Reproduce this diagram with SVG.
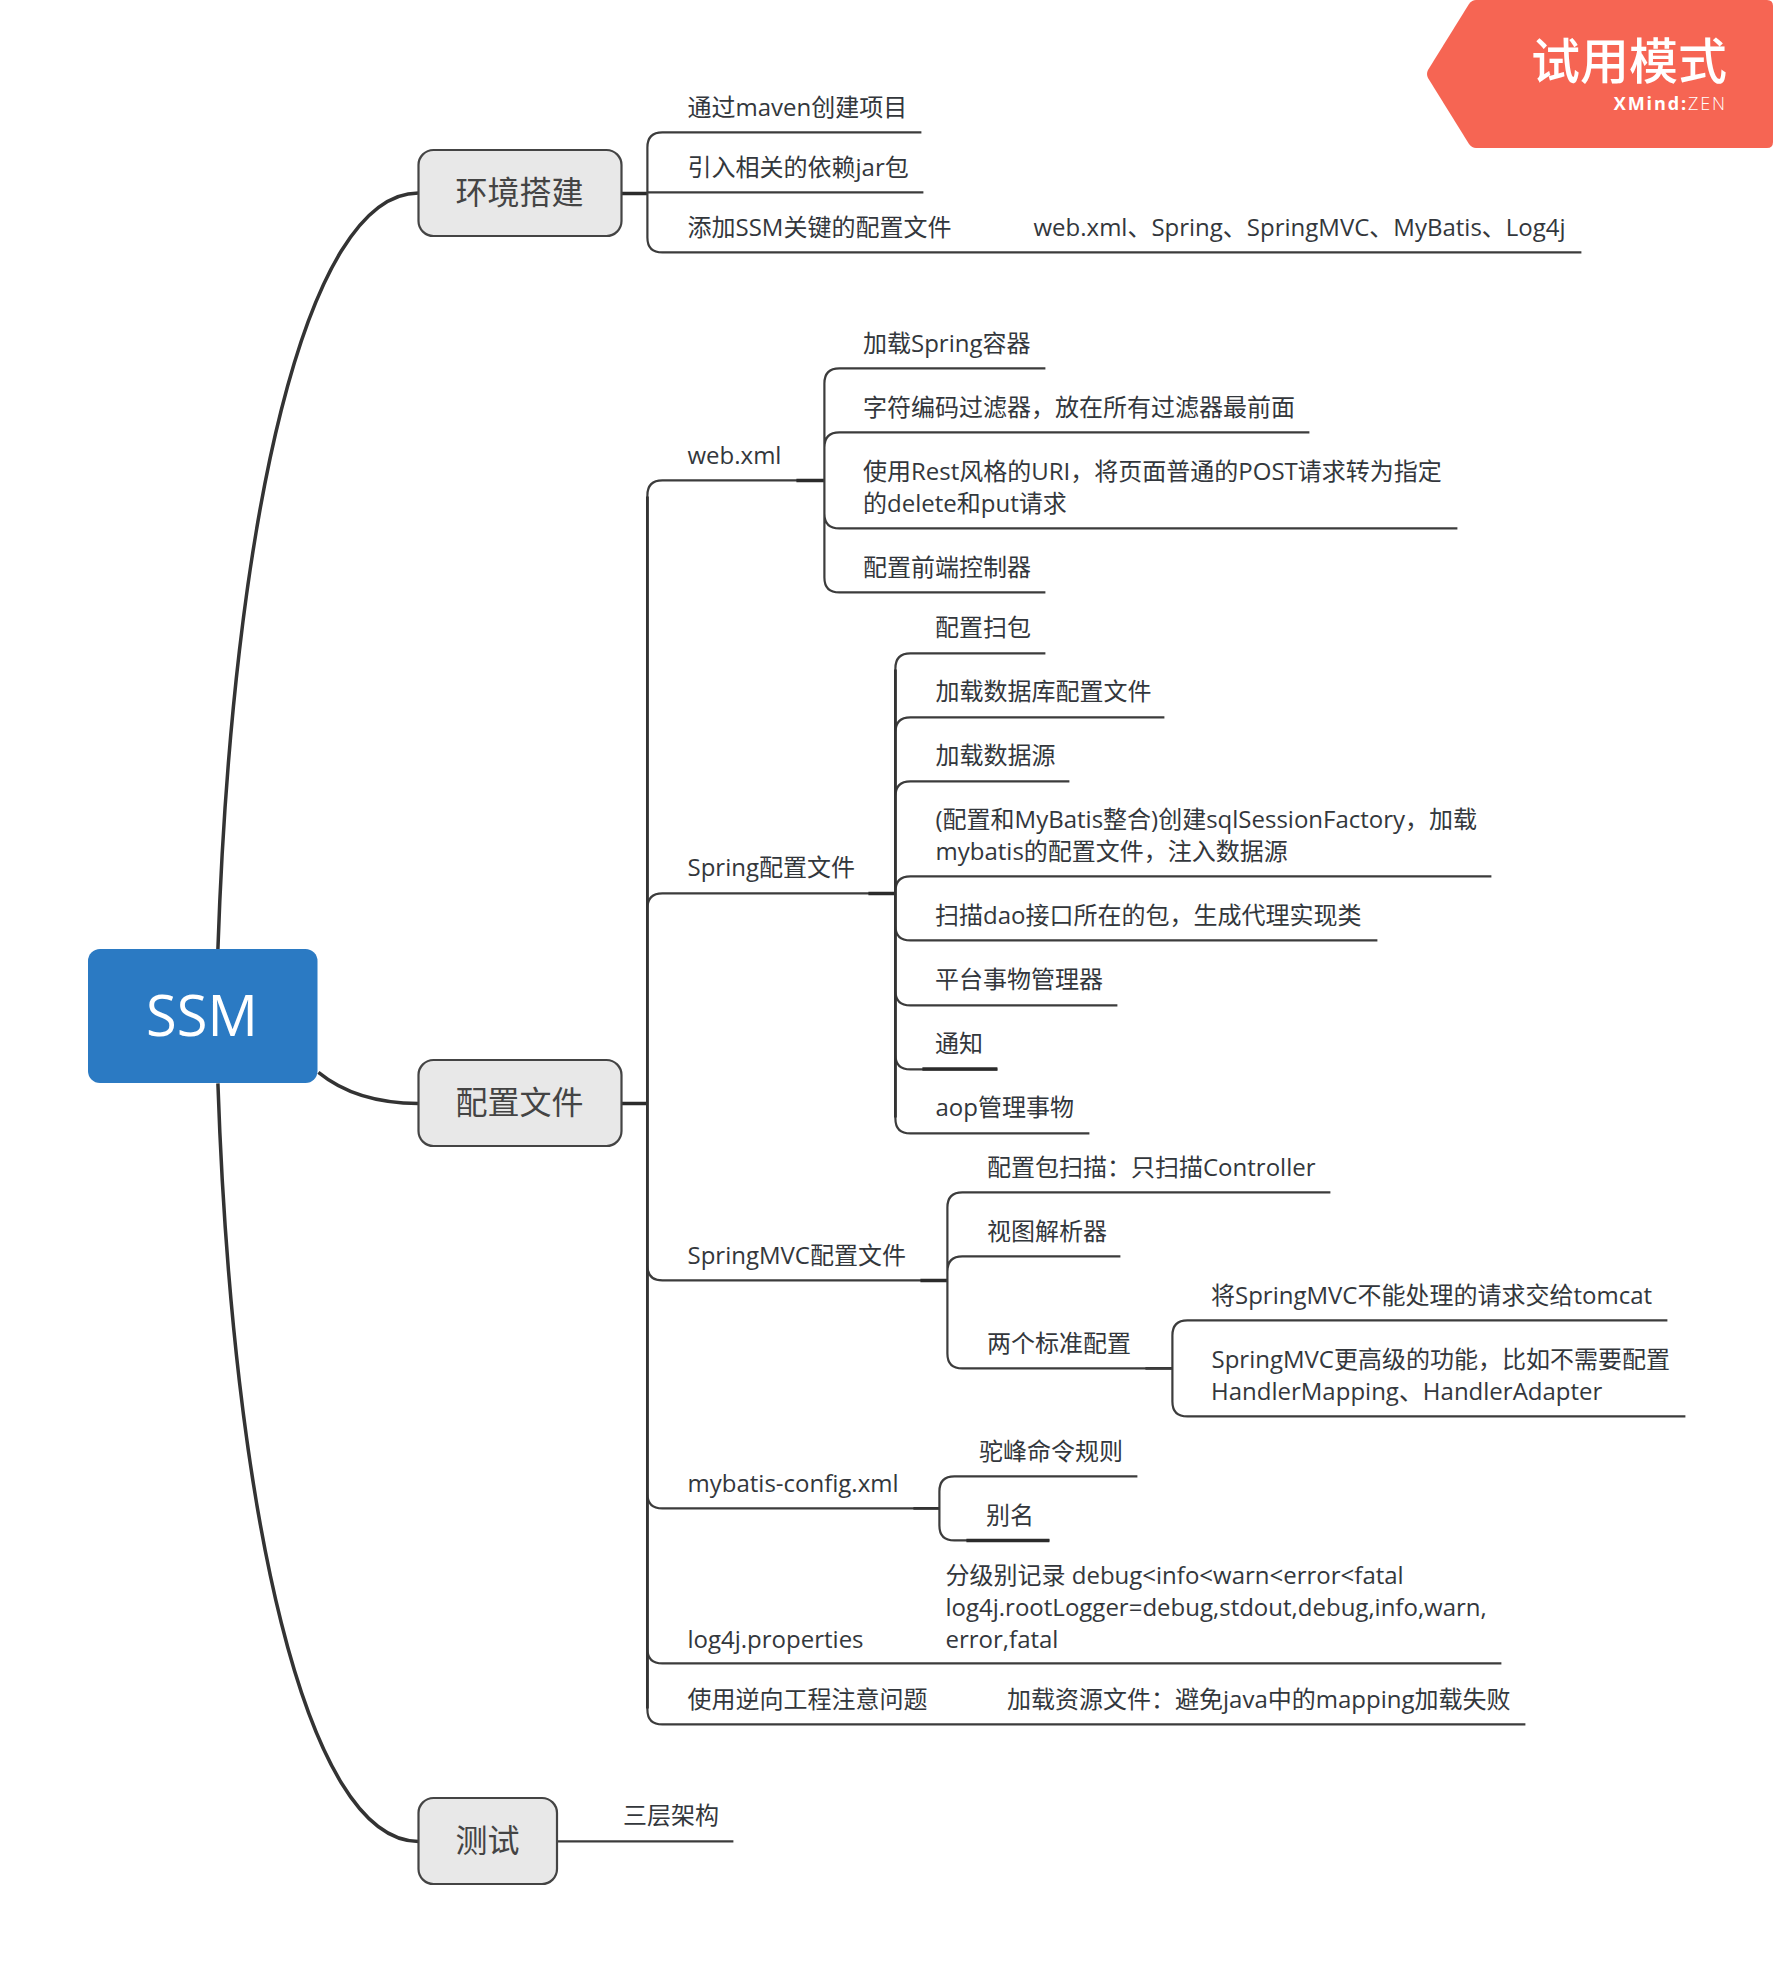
<svg xmlns="http://www.w3.org/2000/svg" width="1773" height="1971" viewBox="0 0 1773 1971">
<style>
text{font-family:"Open Sans","Noto Sans CJK SC",sans-serif;fill:#33373c}
.t{font-size:24px}
.m{font-size:32px;fill:#444;text-anchor:middle}
.c{fill:none;stroke:#3c3c3c;stroke-width:2.2}
.s{fill:none;stroke:#2b2b2b;stroke-width:3.5}
.h{fill:none;stroke:#333;stroke-width:2.8}
.k{fill:none;stroke:#333;stroke-width:3.5}
.b{fill:#e8e8e8;stroke:#444;stroke-width:2.2}
</style>
<rect width="1773" height="1971" fill="#fff"/>
<g id="connectors" transform="translate(0.4,0.4)">
<path class="k" d="M217.5,949C232,520 305,192.5 418,192.5"/>
<path class="k" d="M217.5,1083C232,1510 305,1841 418,1841"/>
<path class="k" d="M318,1072C345,1094 380,1103 418,1103"/>
<path class="s" d="M621,193H647M621,1103H647"/>
<path class="c" d="M647,193V147Q647,132 662,132H921M647,192H923M647,193V237Q647,252 662,252H1581"/>
<path class="c" d="M647,1103V495Q647,480 662,480H824M647,1103V908Q647,893 662,893H895M647,1103V1265Q647,1280 662,1280H947M647,1103V1493Q647,1508 662,1508H939M647,1103V1648Q647,1663 662,1663H1501M647,1103V1709Q647,1724 662,1724H1525"/>
<path class="h" d="M647,496V1708"/>
<path class="s" d="M796,480H824M868,893H895M920,1280H947"/>
<path class="h" d="M913,1508H939M1145,1368H1172"/>
<path class="c" d="M824,480V383Q824,368 839,368H1045M824,480V447Q824,432 839,432H1309M824,480V513Q824,528 839,528H1457M824,480V577Q824,592 839,592H1045"/>
<path class="c" d="M895,893V668Q895,653 910,653H1045M895,893V732Q895,717 910,717H1164M895,893V796Q895,781 910,781H1069M895,893V891Q895,876 910,876H1491M895,893V925Q895,940 910,940H1377M895,893V990Q895,1005 910,1005H1117M895,893V1054Q895,1069 910,1069H997M895,893V1118Q895,1133 910,1133H1089"/>
<path class="h" d="M895,669V1117"/>
<path class="s" d="M922,1068.6H997"/>
<path class="c" d="M947,1280V1207Q947,1192 962,1192H1330M947,1280V1271Q947,1256 962,1256H1120M947,1280V1353Q947,1368 962,1368H1172"/>
<path class="c" d="M1172,1368V1335Q1172,1320 1187,1320H1667M1172,1368V1401Q1172,1416 1187,1416H1685"/>
<path class="c" d="M939,1508V1491Q939,1476 954,1476H1137M939,1508V1525Q939,1540 954,1540H1049"/>
<path class="s" d="M966,1540H1049"/>
<path class="c" d="M557,1841H733"/>
</g>
<g id="root"><rect x="88" y="949" width="229.5" height="134" rx="12" fill="#2b7ac3"/><text x="202" y="1036" font-size="56" text-anchor="middle" style="fill:#fff">SSM</text></g>
<g id="n-env"><rect class="b" x="418.5" y="150" width="203" height="86" rx="15"/><text class="m" x="519.5" y="204">环境搭建</text></g>
<g id="n-cfg"><rect class="b" x="418.5" y="1060" width="203" height="86" rx="15"/><text class="m" x="519.5" y="1114">配置文件</text></g>
<g id="n-test"><rect class="b" x="418.5" y="1798" width="138.5" height="86" rx="15"/><text class="m" x="487.5" y="1852">测试</text></g>
<g id="env-children">
<text class="t" x="687.5" y="116">通过maven创建项目</text>
<text class="t" x="687.5" y="176">引入相关的依赖jar包</text>
<text class="t" x="687.5" y="236">添加SSM关键的配置文件</text>
<text class="t" x="1033.5" y="236">web.xml、Spring、SpringMVC、MyBatis、Log4j</text>
</g>
<g id="web">
<text class="t" x="687.5" y="464">web.xml</text>
<text class="t" x="863" y="352">加载Spring容器</text>
<text class="t" x="863" y="416">字符编码过滤器，放在所有过滤器最前面</text>
<text class="t" x="863" y="480">使用Rest风格的URI，将页面普通的POST请求转为指定</text>
<text class="t" x="863" y="512">的delete和put请求</text>
<text class="t" x="863" y="576">配置前端控制器</text>
</g>
<g id="spring">
<text class="t" x="687.5" y="876">Spring配置文件</text>
<text class="t" x="935" y="636">配置扫包</text>
<text class="t" x="935.5" y="700">加载数据库配置文件</text>
<text class="t" x="935.5" y="764">加载数据源</text>
<text class="t" x="935.5" y="828">(配置和MyBatis整合)创建sqlSessionFactory，加载</text>
<text class="t" x="935.5" y="860">mybatis的配置文件，注入数据源</text>
<text class="t" x="935" y="924">扫描dao接口所在的包，生成代理实现类</text>
<text class="t" x="935" y="988">平台事物管理器</text>
<text class="t" x="935" y="1052">通知</text>
<text class="t" x="935.5" y="1116">aop管理事物</text>
</g>
<g id="mvc">
<text class="t" x="687.5" y="1264">SpringMVC配置文件</text>
<text class="t" x="987" y="1176">配置包扫描：只扫描Controller</text>
<text class="t" x="987" y="1240">视图解析器</text>
<text class="t" x="987" y="1352">两个标准配置</text>
<text class="t" x="1211" y="1304">将SpringMVC不能处理的请求交给tomcat</text>
<text class="t" x="1211.5" y="1368">SpringMVC更高级的功能，比如不需要配置</text>
<text class="t" x="1211" y="1400">HandlerMapping、HandlerAdapter</text>
</g>
<g id="mybatis">
<text class="t" x="687.5" y="1492">mybatis-config.xml</text>
<text class="t" x="979" y="1460">驼峰命令规则</text>
<text class="t" x="986" y="1524">别名</text>
</g>
<g id="log4j">
<text class="t" x="687.5" y="1648">log4j.properties</text>
<text class="t" x="945.5" y="1584">分级别记录 debug&lt;info&lt;warn&lt;error&lt;fatal</text>
<text class="t" x="945.5" y="1616">log4j.rootLogger=debug,stdout,debug,info,warn,</text>
<text class="t" x="945.5" y="1648">error,fatal</text>
</g>
<g id="reverse">
<text class="t" x="687.5" y="1708">使用逆向工程注意问题</text>
<text class="t" x="1007" y="1708">加载资源文件：避免java中的mapping加载失败</text>
</g>
<g id="test-child"><text class="t" x="623" y="1824">三层架构</text></g>
<g id="badge">
<path d="M1476,0H1767Q1773,0 1773,6V142Q1773,148 1767,148H1476Q1472,148 1469,144L1428,78Q1426,74 1428,70L1469,4Q1472,0 1476,0Z" fill="#f66553"/>
<text x="1727" y="79" font-size="49" font-weight="500" text-anchor="end" style="fill:#fff">试用模式</text>
<text x="1727" y="110" font-size="18" letter-spacing="1.9" text-anchor="end" style="fill:#fff;font-weight:700">XMind:<tspan font-weight="300">ZEN</tspan></text>
</g>
</svg>
